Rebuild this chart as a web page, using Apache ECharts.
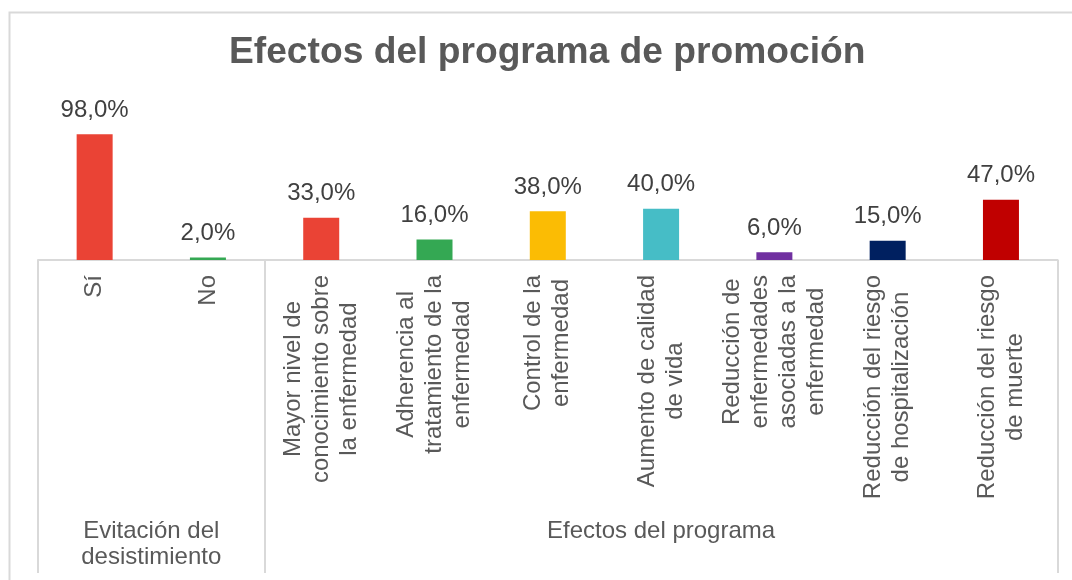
<!DOCTYPE html>
<html>
<head>
<meta charset="utf-8">
<script src="https://cdn.jsdelivr.net/npm/echarts@6/dist/echarts.min.js"></script>
<style>html,body{margin:0;padding:0;background:#fff;}#c{width:1072px;height:580px;}</style>
</head>
<body>
<div id="c"></div>
<script>
const categories = [
  'Sí',
  'No',
  'Mayor nivel de\nconocimiento sobre\nla enfermedad',
  'Adherencia al\ntratamiento de la\nenfermedad',
  'Control de la\nenfermedad',
  'Aumento de calidad\nde vida',
  'Reducción de\nenfermedades\nasociadas a la\nenfermedad',
  'Reducción del riesgo\nde hospitalización',
  'Reducción del riesgo\nde muerte'
];
const values = [98, 2, 33, 16, 38, 40, 6, 15, 47];
const barColors = ['#EA4335', '#34A853', '#EA4335', '#34A853', '#FBBC04', '#46BDC6', '#7030A0', '#002060', '#C00000'];
const groupNames = ['Evitación del\ndesistimiento', 'Efectos del programa'];
const groupBounds = [0, 2, 9];
const groupCenters = [1, 5.5];
const titleText = 'Efectos del programa de promoción';

const FONT = '"Liberation Sans", Arial, sans-serif';
const chart = echarts.init(document.getElementById('c'), null, {renderer: 'canvas'});

const option = {
  animation: false,
  backgroundColor: '#ffffff',
  title: {
    text: titleText,
    left: 224,
    top: 29,
    textStyle: {fontFamily: FONT, fontSize: 37.2, fontWeight: 'bold', color: '#595959'}
  },
  graphic: [{
    type: 'rect',
    left: 7, top: 10,
    shape: {x: 0, y: 0, width: 1100, height: 620},
    style: {fill: 'none', stroke: '#d9d9d9', lineWidth: 2},
    silent: true
  }],
  grid: {left: 38, right: 14.4, top: 131.7, bottom: 320, containLabel: false, outerBoundsMode: 'none'},
  xAxis: [{
    type: 'category',
    data: categories,
    axisLine: {show: false},
    axisTick: {show: false},
    axisLabel: {
      interval: 0,
      rotate: 90,
      margin: 15,
      formatter: function (v) {
        return v.split('\n').map(function (l) { return '{c|' + l + '}'; }).join('\n');
      },
      rich: {
        c: {align: 'center', fontFamily: FONT, fontSize: 24, lineHeight: 28, color: '#595959'}
      }
    }
  }, {
    type: 'value',
    min: 0,
    max: groupBounds[groupBounds.length - 1],
    position: 'bottom',
    axisLine: {show: true, onZero: false, lineStyle: {color: '#d9d9d9', width: 2}},
    splitLine: {show: false},
    axisTick: {show: true, customValues: groupBounds, length: 313, lineStyle: {color: '#d9d9d9', width: 2}},
    axisLabel: {
      show: true,
      customValues: groupCenters,
      margin: 258,
      fontFamily: FONT, fontSize: 24, lineHeight: 26, color: '#595959',
      formatter: function (v) { return groupNames[groupCenters.indexOf(v)] || ''; }
    }
  }],
  yAxis: {type: 'value', min: 0, max: 100, show: false, splitLine: {show: false}},
  series: [{
    type: 'bar',
    xAxisIndex: 0,
    barWidth: 36,
    data: values.map(function (v, i) { return {value: v, itemStyle: {color: barColors[i]}}; }),
    label: {
      show: true,
      position: 'top',
      distance: 12,
      fontFamily: FONT, fontSize: 24, color: '#404040',
      formatter: function (p) { return p.value.toFixed(1).replace('.', ',') + '%'; }
    }
  }]
};
chart.setOption(option);
</script>
</body>
</html>
